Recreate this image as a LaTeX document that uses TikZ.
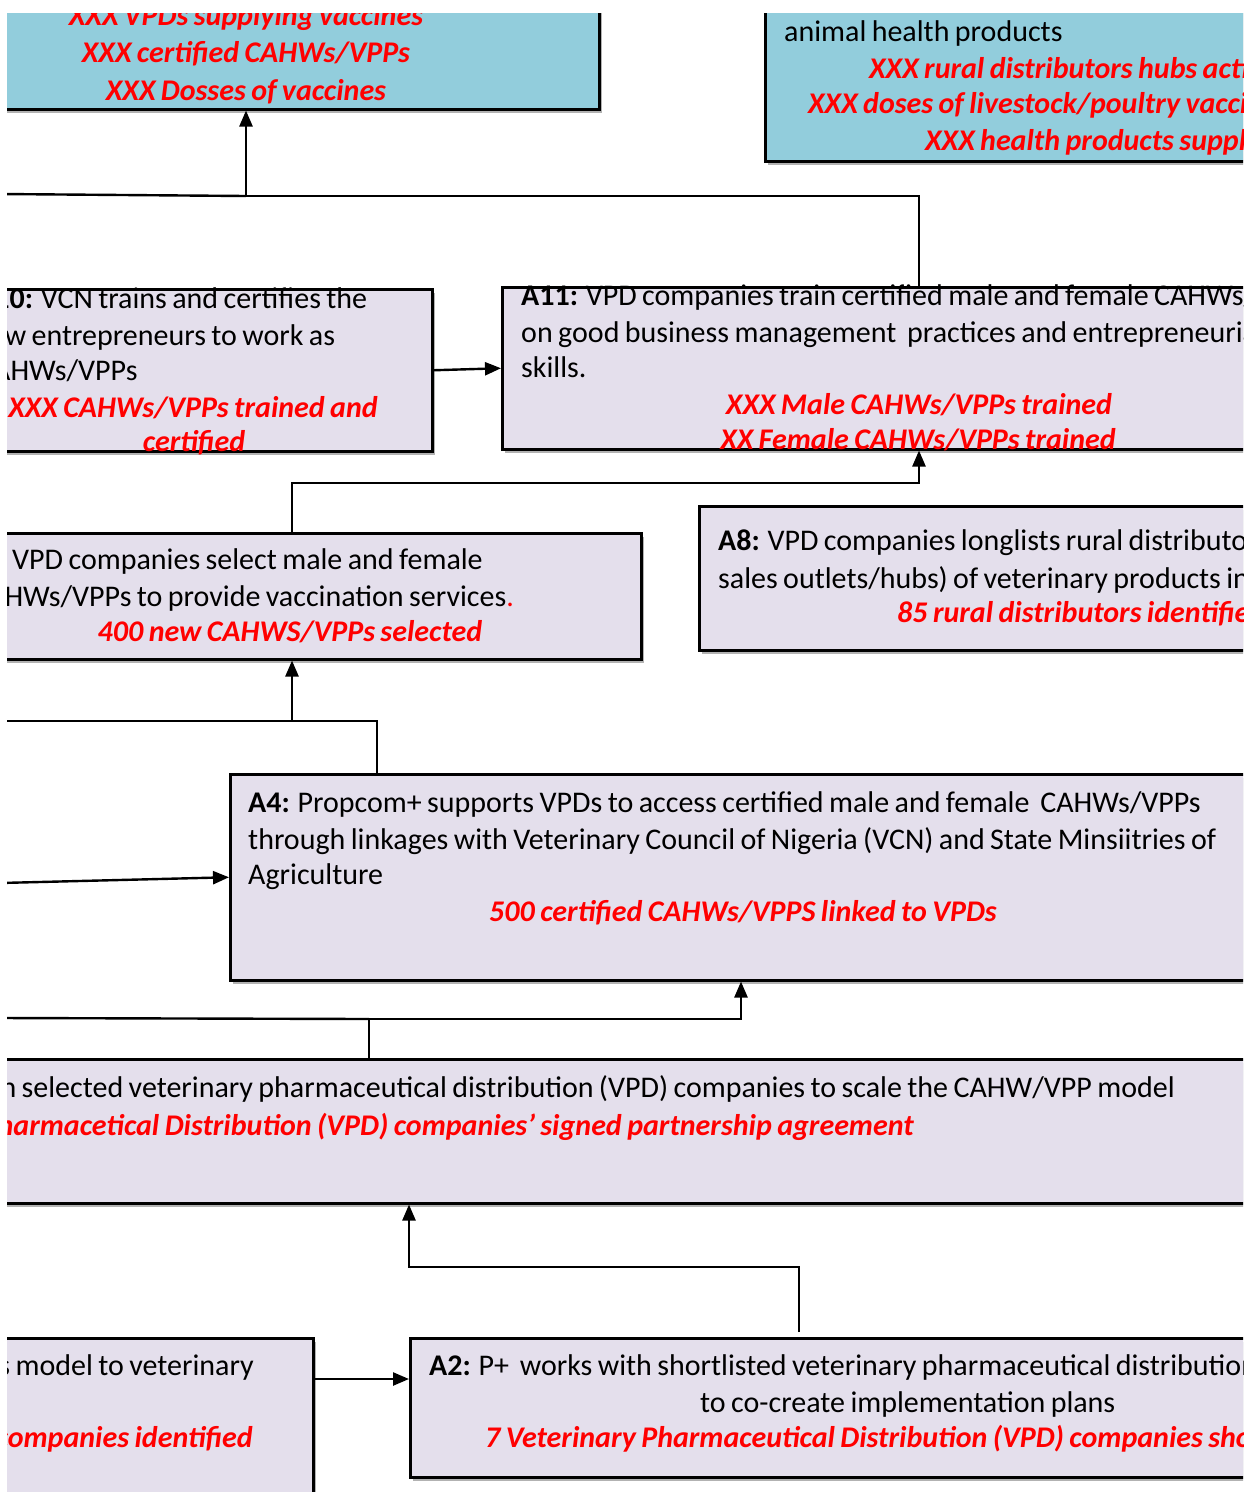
\documentclass[tikz,border=0pt]{standalone}
\usepackage{fontspec}
\setmainfont{Carlito}[WordSpace=0.8]
\usetikzlibrary{arrows.meta,shadows}
\definecolor{boxblue}{HTML}{92CDDC}
\definecolor{boxlav}{HTML}{E4DFEC}
\definecolor{outred}{HTML}{FF0000}
\begin{document}
\begin{tikzpicture}[x=1pt,y=-1pt,
  boxbase/.style={draw=black, line width=2.5pt, rectangle, inner sep=0pt, anchor=north west,
    drop shadow={shadow xshift=3pt, shadow yshift=-4pt, opacity=0.3, fill=black}},
  bluebox/.style={boxbase, fill=boxblue},
  lavbox/.style={boxbase, fill=boxlav},
  txt/.style={inner sep=0pt, yshift=-3pt, text height=22.5pt, text depth=7.5pt, font=\fontsize{30}{36.5}\selectfont},
  tl/.style={txt, anchor=west},
  tr/.style={txt, anchor=east},
  rtxt/.style={txt, text=outred, font=\fontsize{30}{36.5}\selectfont\bfseries\itshape},
  rl/.style={rtxt, anchor=west},
  rr/.style={rtxt, anchor=east},
  rc/.style={rtxt, anchor=center},
  link/.style={line width=2.4pt, draw=black},
  conn/.style={link, -{Triangle[length=16pt,width=13pt]}}
]
\useasboundingbox (0,0) rectangle (1251,1492);
\begin{scope}
\clip (7,13) rectangle (1243,1492);

% boxes
\node[bluebox, minimum width=698pt, minimum height=208pt] (t1) at (-100,-100) {};
\node[bluebox, minimum width=636pt, minimum height=260pt] (t2) at (764,-100) {};
\node[lavbox, minimum width=531pt, minimum height=162pt] (a10) at (-100,288) {};
\node[lavbox, minimum width=899pt, minimum height=162pt] (a11) at (501,286) {};
\node[lavbox, minimum width=740pt, minimum height=126pt] (a7) at (-100,532) {};
\node[lavbox, minimum width=702pt, minimum height=144pt] (a8) at (698,505) {};
\node[lavbox, minimum width=1171pt, minimum height=206pt] (a4) at (229,773) {};
\node[lavbox, minimum width=1500pt, minimum height=144pt] (a3) at (-100,1058) {};
\node[lavbox, minimum width=412pt, minimum height=263pt] (a1) at (-100,1337) {};
\node[lavbox, minimum width=991pt, minimum height=139pt] (a2) at (409,1337) {};

% texts: top-left output box
\node[rc] (t1a) at (246,15) {XXX VPDs supplying vaccines};
\node[rc] (t1b) at (246,52) {XXX certified CAHWs/VPPs};
\node[rc] (t1c) at (246,90) {XXX Dosses of vaccines};

% top-right output box
\node[tl] (t2a) at (784,31) {animal health products};
\node[rl] (t2b) at (869,68) {XXX rural distributors hubs activated};
\node[rl] (t2c) at (808,103) {XXX doses of livestock/poultry vaccines};
\node[rl] (t2d) at (925,140) {XXX health products supplied};

% A10
\node[tl] (a10a) at (-24,298) {\textbf{A10:} VCN trains and certifies the};
\node[tl] (a10b) at (-26,335) {new entrepreneurs to work as};
\node[tl] (a10c) at (-23,370) {CAHWs/VPPs};
\node[rc] (a10d) at (193,407) {XXX CAHWs/VPPs trained and};
\node[rc] (a10e) at (194,441) {certified};

% A11
\node[tl] (a11a) at (521,295) {\textbf{A11:} VPD companies train certified male and female CAHWs/VPPs};
\node[tl] (a11b) at (521,332) {on good business management\ \ practices and entrepreneurial};
\node[tl] (a11c) at (521,367) {skills.};
\node[rc] (a11d) at (919,404) {XXX Male CAHWs/VPPs trained};
\node[rc] (a11e) at (918,439) {XX Female CAHWs/VPPs trained};

% A7 (select)
\node[tl] (a7a) at (12,559) {VPD companies select male and female};
\node[tl] (a7b) at (-29,596) {CAHWs/VPPs to provide vaccination services\textcolor{outred}{.}};
\node[rc] (a7c) at (290,631) {400 new CAHWS/VPPs selected};

% A8
\node[tl] (a8a) at (718,540) {\textbf{A8:} VPD companies longlists rural distributors};
\node[tl] (a8b) at (718,578) {sales outlets/hubs) of veterinary products in};
\node[rl] (a8c) at (897,612) {85 rural distributors identified};

% A4
\node[tl] (a4a) at (248,802) {\textbf{A4:} Propcom+ supports VPDs to access certified male and female\ \ CAHWs/VPPs};
\node[tl] (a4b) at (248,839) {through linkages with Veterinary Council of Nigeria (VCN) and State Minsiitries of};
\node[tl] (a4c) at (248,874) {Agriculture};
\node[rc] (a4d) at (743,911) {500 certified CAHWs/VPPS linked to VPDs};

% A3
\node[tr] (a3a) at (1175,1087) {with selected veterinary pharmaceutical distribution (VPD) companies to scale the CAHW/VPP model};
\node[rr] (a3b) at (914,1125) {Pharmacetical Distribution (VPD) companies{\char39} signed partnership agreement};

% A1
\node[tr] (a1a) at (254,1365) {this model to veterinary};
\node[rr] (a1b) at (253,1437) {companies\ identified};

% A2
\node[tl] (a2a) at (429,1365) {\textbf{A2:} P+\ \ works with shortlisted veterinary pharmaceutical distribution};
\node[tl] (a2b) at (700,1402) {to co-create implementation plans};
\node[rl] (a2c) at (485,1437) {7 Veterinary Pharmaceutical Distribution (VPD) companies shortlisted};

% junction coordinates
\coordinate (c1) at (919,196);
\coordinate (c2) at (246,196);
\coordinate (l1) at (0,194);
\coordinate (c3) at (292,483);
\coordinate (c4) at (919,483);
\coordinate (c5) at (377,721);
\coordinate (c6) at (292,721);
\coordinate (l2) at (0,721);
\coordinate (l3) at (0,883);
\coordinate (c7) at (369,1019);
\coordinate (c8) at (741,1019);
\coordinate (l4) at (0,1018);
\coordinate (c11) at (799,1332);
\coordinate (c9) at (799,1267);
\coordinate (c10) at (409,1267);
\coordinate (c12) at (0,1379);

% connectors
\draw[conn] (a11.north -| c1) -- (c1) -- (c2) -- (c2 |- t1.south);
\draw[link] (l1) -- (c2);
\draw[conn] (a10.east) -- (a11.west);
\draw[conn] (a7.north -| c3) -- (c3) -- (c4) -- (c4 |- a11.south);
\draw[conn] (a4.north -| c5) -- (c5) -- (c6) -- (c6 |- a7.south);
\draw[link] (l2) -- (c6);
\draw[conn] (l3) -- (a4.west);
\draw[conn] (a3.north -| c7) -- (c7) -- (c8) -- (c8 |- a4.south);
\draw[link] (l4) -- (c7);
\draw[conn] (c11) -- (c9) -- (c10) -- (c10 |- a3.south);
\draw[conn] (a1.east |- c12) -- (a2.west |- c12);
\end{scope}
\end{tikzpicture}
\end{document}
